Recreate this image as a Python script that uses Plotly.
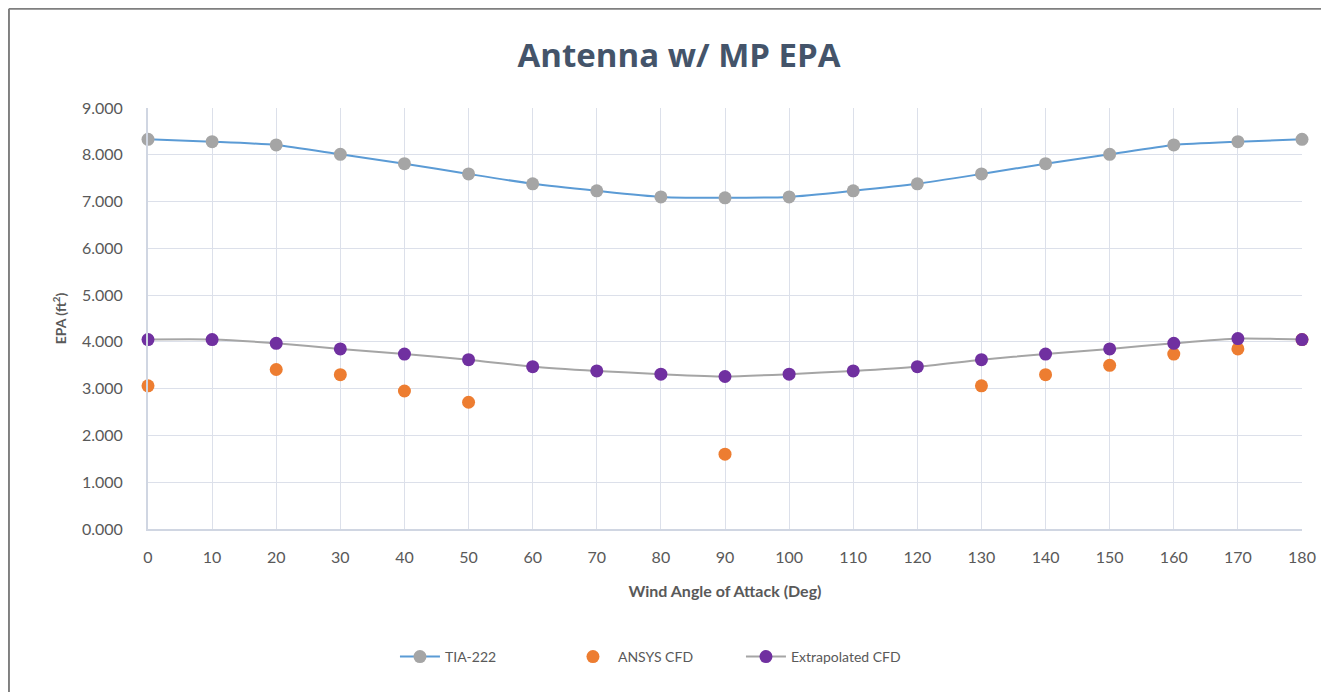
import plotly.graph_objects as go

angles = [0, 10, 20, 30, 40, 50, 60, 70, 80, 90, 100, 110, 120, 130, 140, 150, 160, 170, 180]
tia222 = [8.33, 8.28, 8.21, 8.01, 7.81, 7.59, 7.38, 7.23, 7.10, 7.08, 7.10, 7.23, 7.38, 7.59, 7.81, 8.01, 8.21, 8.28, 8.33]
extrap_cfd = [4.05, 4.05, 3.97, 3.85, 3.74, 3.62, 3.47, 3.38, 3.31, 3.26, 3.31, 3.38, 3.47, 3.62, 3.74, 3.85, 3.97, 4.07, 4.05]
ansys_angles = [0, 20, 30, 40, 50, 90, 130, 140, 150, 160, 170, 180]
ansys_cfd = [3.06, 3.41, 3.30, 2.95, 2.71, 1.60, 3.06, 3.30, 3.50, 3.74, 3.85, 4.05]
y_ticks = [0, 1, 2, 3, 4, 5, 6, 7, 8, 9]

FONT = "Lato"
TXT = "#595959"

fig = go.Figure()
fig.add_trace(go.Scatter(
    x=angles, y=tia222, name="TIA-222", mode="lines+markers",
    line=dict(color="#5B9BD5", width=2, shape="spline", smoothing=0.6),
    marker=dict(color="#A5A5A5", size=13), cliponaxis=False))
fig.add_trace(go.Scatter(
    x=ansys_angles, y=ansys_cfd, name="ANSYS CFD", mode="markers",
    marker=dict(color="#ED7D31", size=13), cliponaxis=False))
fig.add_trace(go.Scatter(
    x=angles, y=extrap_cfd, name="Extrapolated CFD", mode="lines+markers",
    line=dict(color="#A5A5A5", width=2, shape="spline", smoothing=0.6),
    marker=dict(color="#7030A0", size=13), cliponaxis=False))

# outer chart frame (left and top edges)
fig.add_shape(type="line", xref="paper", yref="paper", x0=-0.1205, x1=-0.1205, y0=1.236, y1=-0.40,
              line=dict(color="#7F7F7F", width=2))
fig.add_shape(type="line", xref="paper", yref="paper", x0=-0.1205, x1=1.03, y0=1.236, y1=1.236,
              line=dict(color="#7F7F7F", width=2))

fig.update_layout(
    width=1321, height=684,
    margin=dict(l=140, r=27, t=100, b=163),
    paper_bgcolor="white", plot_bgcolor="white",
    font=dict(family=FONT, color=TXT, size=15),
    title=dict(text="<b>Antenna w/ MP EPA</b>", x=0.508, xanchor="center", y=0.931, yanchor="middle",
               font=dict(family="Open Sans", size=33, color="#44546A")),
    showlegend=True,
    legend=dict(orientation="h", x=0.214, xanchor="left", y=-0.304, yanchor="middle",
                font=dict(family=FONT, size=14, color=TXT), itemwidth=40,
                entrywidth=118, entrywidthmode="pixels"),
)
fig.update_xaxes(
    range=[0, 180], tickvals=angles, ticktext=[str(a) for a in angles],
    showgrid=True, gridcolor="#DCE0EA", gridwidth=1,
    showline=True, linecolor="#D0D6E2", linewidth=2, zeroline=False,
    ticks="", ticklabelstandoff=13,
    title=dict(text="<b>Wind Angle of Attack (Deg)</b>", standoff=21,
               font=dict(family=FONT, size=16, color=TXT)),
    tickfont=dict(family=FONT, size=16, color=TXT))
fig.update_yaxes(
    range=[0, 9], tickvals=y_ticks, tickformat=".3f",
    showgrid=True, gridcolor="#DCE0EA", gridwidth=1,
    showline=True, linecolor="#D0D6E2", linewidth=2, zeroline=False,
    ticks="", ticklabelstandoff=20,
    title=dict(text="<b>EPA (ft<sup>2</sup>)</b>", standoff=12,
               font=dict(family=FONT, size=14, color=TXT)),
    tickfont=dict(family=FONT, size=16, color=TXT))

fig.write_html("out.html")
